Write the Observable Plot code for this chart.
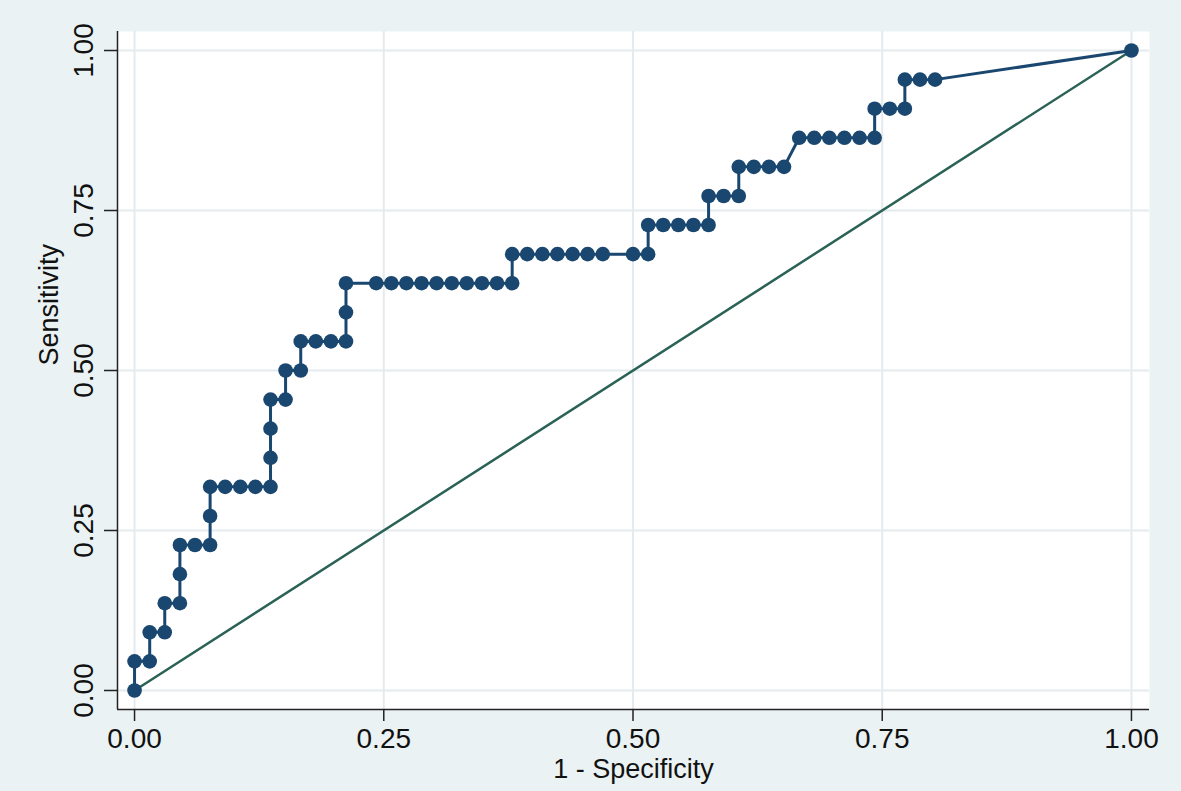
<!DOCTYPE html>
<html>
<head>
<meta charset="utf-8">
<script src="https://cdn.jsdelivr.net/npm/d3@7"></script>
<script src="https://cdn.jsdelivr.net/npm/@observablehq/plot@0.6"></script>
<style>
  html, body { margin: 0; padding: 0; background: #eaf2f3; }
  #chart svg { display: block; }
</style>
</head>
<body>
<div id="chart"></div>
<script>
// ROC curve points: 1 - Specificity (x) and Sensitivity (y), in drawing order
const fpr = [
  0, 0, 0.0152, 0.0152, 0.0303, 0.0303, 0.0455, 0.0455, 0.0455, 0.0606,
  0.0758, 0.0758, 0.0758, 0.0909, 0.1061, 0.1212, 0.1364, 0.1364, 0.1364, 0.1364,
  0.1515, 0.1515, 0.1667, 0.1667, 0.1818, 0.1970, 0.2121, 0.2121, 0.2121, 0.2424,
  0.2576, 0.2727, 0.2879, 0.3030, 0.3182, 0.3333, 0.3485, 0.3636, 0.3788, 0.3788,
  0.3939, 0.4091, 0.4242, 0.4394, 0.4545, 0.4697, 0.5000, 0.5152, 0.5152, 0.5303,
  0.5455, 0.5606, 0.5758, 0.5758, 0.5909, 0.6061, 0.6061, 0.6212, 0.6364, 0.6515,
  0.6667, 0.6818, 0.6970, 0.7121, 0.7273, 0.7424, 0.7424, 0.7576, 0.7727, 0.7727,
  0.7879, 0.8030, 1
];
const sens = [
  0, 0.0455, 0.0455, 0.0909, 0.0909, 0.1364, 0.1364, 0.1818, 0.2273, 0.2273,
  0.2273, 0.2727, 0.3182, 0.3182, 0.3182, 0.3182, 0.3182, 0.3636, 0.4091, 0.4545,
  0.4545, 0.5000, 0.5000, 0.5455, 0.5455, 0.5455, 0.5455, 0.5909, 0.6364, 0.6364,
  0.6364, 0.6364, 0.6364, 0.6364, 0.6364, 0.6364, 0.6364, 0.6364, 0.6364, 0.6818,
  0.6818, 0.6818, 0.6818, 0.6818, 0.6818, 0.6818, 0.6818, 0.6818, 0.7273, 0.7273,
  0.7273, 0.7273, 0.7273, 0.7727, 0.7727, 0.7727, 0.8182, 0.8182, 0.8182, 0.8182,
  0.8636, 0.8636, 0.8636, 0.8636, 0.8636, 0.8636, 0.9091, 0.9091, 0.9091, 0.9545,
  0.9545, 0.9545, 1
];
// Reference (chance) diagonal
const refX = [0, 1];
const refY = [0, 1];
// Axes
const xTicks = [0, 0.25, 0.5, 0.75, 1];
const yTicks = [0, 0.25, 0.5, 0.75, 1];
const xLabel = "1 - Specificity";
const yLabel = "Sensitivity";
const xDomain = [-0.0171, 1.0181];
const yDomain = [-0.0297, 1.0297];

const roc = fpr.map((x, i) => ({x, y: sens[i]}));
const ref = refX.map((x, i) => ({x, y: refY[i]}));
const fmt = d3.format(".2f");
const FONT = "'Liberation Sans', Arial, sans-serif";
const navy = "#1a476f";

const chart = Plot.plot({
  width: 1181,
  height: 791,
  marginLeft: 117,
  marginRight: 32,
  marginTop: 31,
  marginBottom: 82,
  style: {background: "#eaf2f3", fontFamily: FONT, fontSize: "28px", color: "#111"},
  x: {domain: xDomain},
  y: {domain: yDomain},
  marks: [
    Plot.frame({fill: "white", stroke: "none"}),
    Plot.gridX(xTicks, {stroke: "#e3ebee", strokeOpacity: 1, strokeWidth: 2}),
    Plot.gridY(yTicks, {stroke: "#e3ebee", strokeOpacity: 1, strokeWidth: 2}),
    Plot.ruleX([xDomain[0]], {stroke: "#222", strokeWidth: 1.5}),
    Plot.ruleY([yDomain[0]], {stroke: "#222", strokeWidth: 1.5}),
    Plot.axisX(xTicks, {tickSize: 12, tickPadding: 7, tickFormat: fmt, label: null, fontSize: 28, stroke: "#222", strokeWidth: 1.5, fill: "#111"}),
    Plot.axisY(yTicks, {tickSize: 13, tickPadding: 12, tickRotate: -90, tickFormat: fmt, label: null, fontSize: 28, stroke: "#222", strokeWidth: 1.5, fill: "#111"}),
    Plot.text([xLabel], {text: d => d, frameAnchor: "bottom", dy: 68, fontSize: 27, fill: "#111"}),
    Plot.text([yLabel], {text: d => d, frameAnchor: "left", rotate: -90, dx: -68, dy: -5, fontSize: 27, fill: "#111"}),
    Plot.line(ref, {x: "x", y: "y", stroke: "#2b6256", strokeWidth: 2.5}),
    Plot.line(roc, {x: "x", y: "y", stroke: navy, strokeWidth: 3}),
    Plot.dot(roc, {x: "x", y: "y", r: 7.3, fill: navy, stroke: "none"})
  ]
});
document.getElementById("chart").appendChild(chart);
</script>
</body>
</html>
